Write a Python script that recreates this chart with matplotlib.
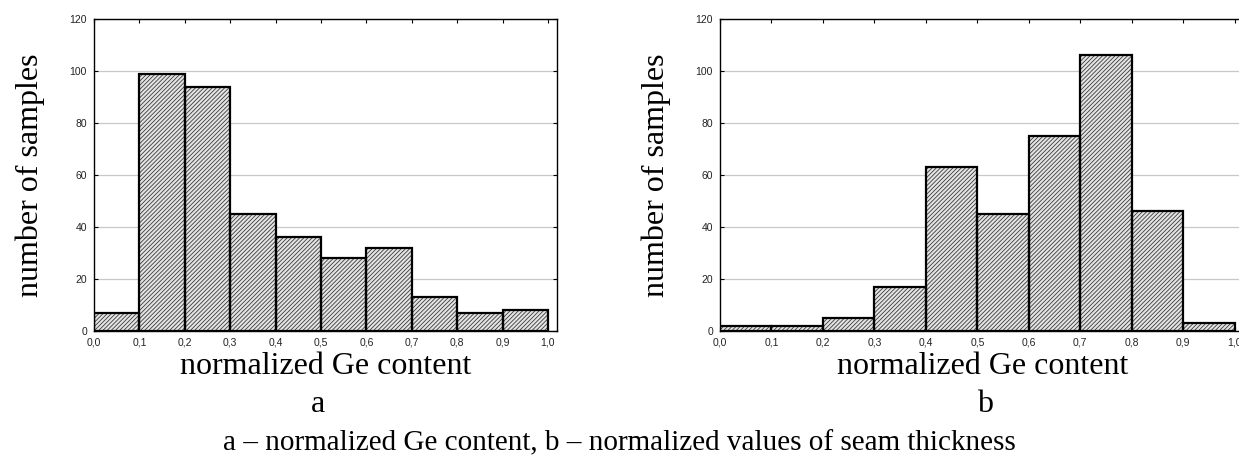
import matplotlib
matplotlib.use("Agg")
import matplotlib.pyplot as plt
import numpy as np

# histogram data
bin_left = [0.0, 0.1, 0.2, 0.3, 0.4, 0.5, 0.6, 0.7, 0.8, 0.9]
counts_a = [7, 99, 94, 45, 36, 28, 32, 13, 7, 8]
counts_b = [2, 2, 5, 17, 63, 45, 75, 106, 46, 3]
xticks = [0.0, 0.1, 0.2, 0.3, 0.4, 0.5, 0.6, 0.7, 0.8, 0.9, 1.0]
yticks = [0, 20, 40, 60, 80, 100, 120]
xlabel = "normalized Ge content"
ylabel = "number of samples"
caption = "a \u2013 normalized Ge content, b \u2013 normalized values of seam thickness"

serif = "Liberation Serif"
sans = "Liberation Sans"
plt.rcParams['hatch.linewidth'] = 0.6

fig = plt.figure(figsize=(12.39, 4.68), dpi=100)
W, H = 1239.0, 468.0


def draw_hist(ax, counts):
    ax.set_axisbelow(True)
    ax.yaxis.grid(True, color="#c8c8c8", linewidth=0.9)
    ax.bar(bin_left, counts, width=0.1, align="edge", color="#e4e4e4",
           edgecolor="#3a3a3a", hatch="////////", linewidth=0, zorder=2)
    ax.bar(bin_left, counts, width=0.1, align="edge", fill=False,
           edgecolor="black", linewidth=1.6, zorder=3)
    ax.set_xlim(0, 1.02)
    ax.set_ylim(0, 120)
    ax.set_xticks(xticks)
    ax.set_xticklabels([("%.1f" % t).replace(".", ",") for t in xticks])
    ax.set_yticks(yticks)
    ax.tick_params(direction="in", length=3, width=0.8, labelsize=7.5,
                   labelcolor="#222222", top=True, right=True, pad=5)
    for lab in ax.get_xticklabels() + ax.get_yticklabels():
        lab.set_family(sans)
    for s in ax.spines.values():
        s.set_linewidth(1.0)
    ax.set_xlabel(xlabel, family=serif, fontsize=23, labelpad=3)
    ax.set_ylabel(ylabel, family=serif, fontsize=23, labelpad=18)


ax1 = fig.add_axes([94 / W, (H - 331) / H, 463 / W, 312 / H])
draw_hist(ax1, counts_a)

ax2 = fig.add_axes([720 / W, (H - 331) / H, 525 / W, 312 / H])
draw_hist(ax2, counts_b)

# panel letters under each x label
fig.text(318 / W, (H - 405) / H, "a", ha="center", va="center",
         family=serif, fontsize=23)
fig.text(985 / W, (H - 405) / H, "b", ha="center", va="center",
         family=serif, fontsize=23)

fig.text(0.5, (H - 443) / H, caption, ha="center", va="center",
         family=serif, fontsize=21)

fig.savefig("out.png", dpi=100)
